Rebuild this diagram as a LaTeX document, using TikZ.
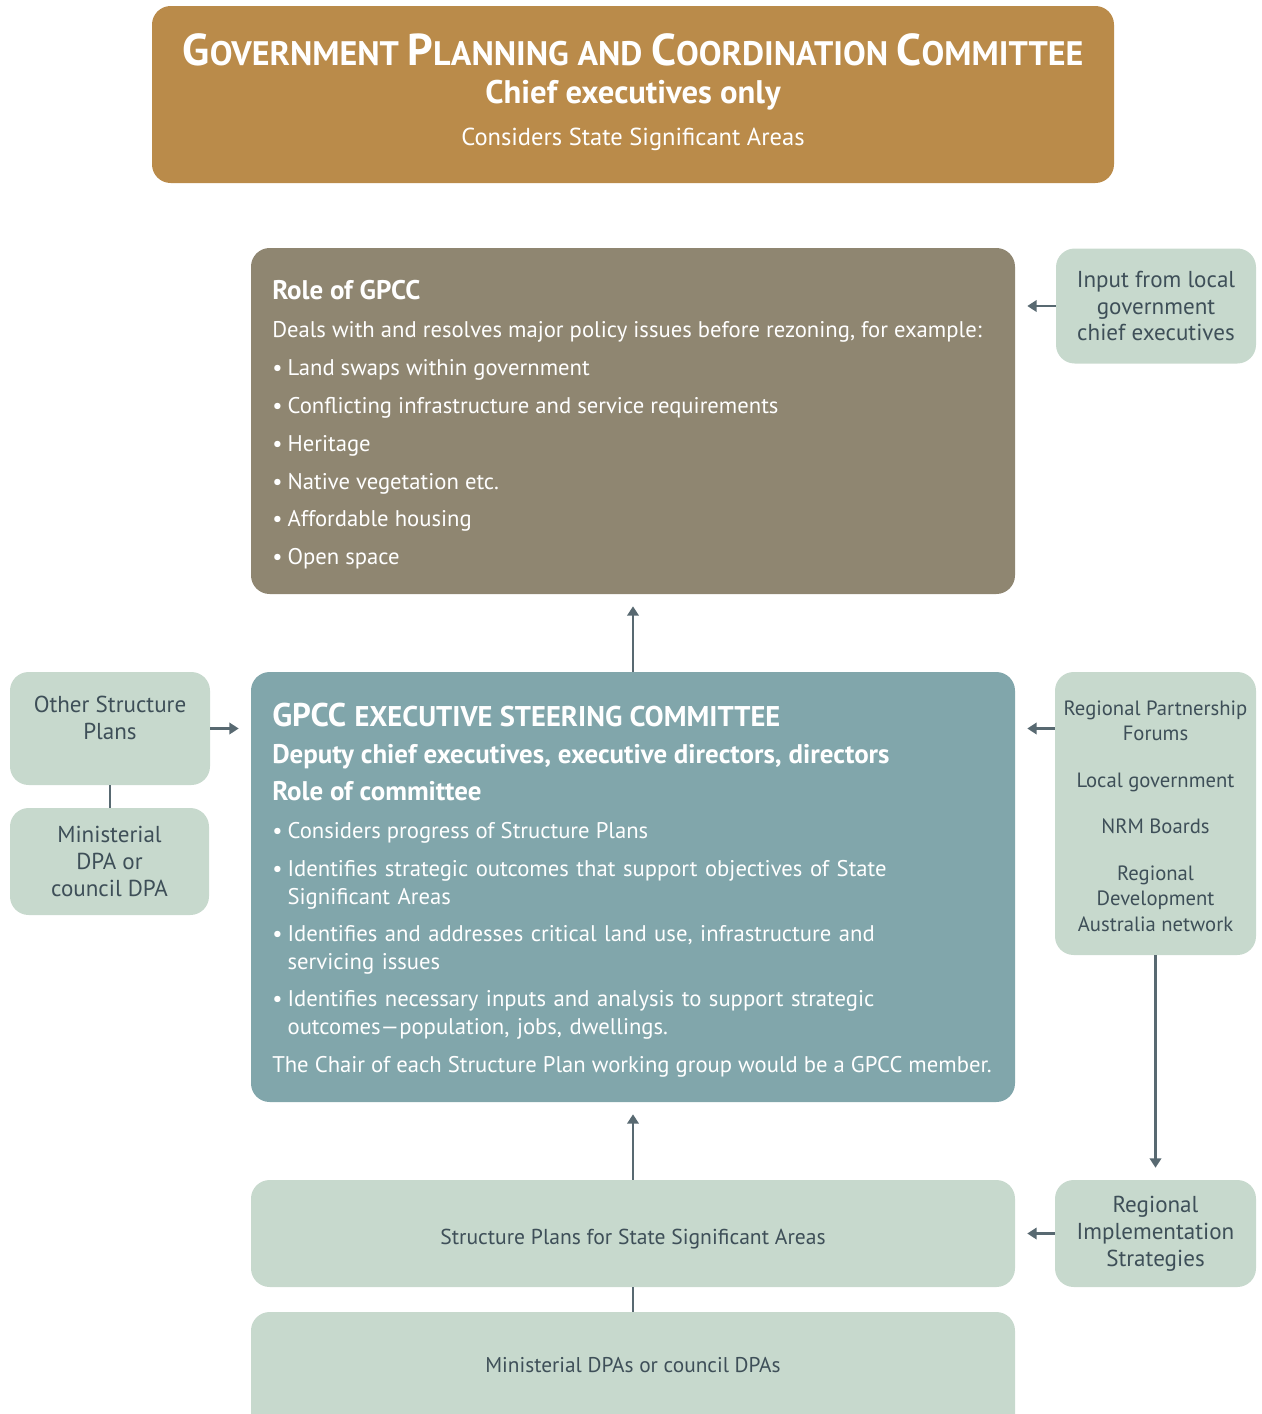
\documentclass[tikz,border=0pt]{standalone}
\usepackage{fontspec}
\setmainfont{PT Sans}
\usetikzlibrary{arrows.meta,calc}
\definecolor{gold}{RGB}{186,139,74}
\definecolor{taupe}{RGB}{143,134,113}
\definecolor{tealbox}{RGB}{129,166,171}
\definecolor{pale}{RGB}{199,217,205}
\definecolor{arrowc}{RGB}{88,105,113}
\definecolor{darktext}{RGB}{62,79,88}
\newcommand\fsz[2]{\fontsize{#1}{#2}\selectfont}
\newcommand\bul{\makebox[11.5pt][l]{•}}
\newcommand\bulsp{\hspace*{11.5pt}}
\tikzset{
  box/.style 2 args={rounded corners=14pt, inner sep=0pt, draw=none,
    minimum width=#1*0.75pt, minimum height=#2*0.75pt},
  paletxt/.style={text=darktext, align=center, font=\fsz{17.3}{20.2}},
  whitetxt/.style={text=white, anchor=base west, inner sep=0pt},
  bodyf/.style={font=\fsz{17}{21}},
  conn/.style={draw=arrowc, line width=1.8pt},
  arr/.style={conn, -{Triangle[width=8.5pt,length=7pt]}, shorten >=9pt},
}
\begin{document}
\begin{tikzpicture}[x=0.75pt,y=-0.75pt]
\useasboundingbox (0,0) rectangle (1262,1414);
\clip (0,0) rectangle (1262,1414);

% ---------- boxes ----------
\node[box={962}{177}, fill=gold] (top) at (633,94.5) {};
\node[box={764}{346}, fill=taupe] (role) at (633,421) {};
\node[box={200}{115}, fill=pale, paletxt] (input) at (1156,306)
  {Input from local\\government\\chief executives};
\node[box={764}{430}, fill=tealbox] (steer) at (633,887) {};
\node[box={200}{113}, fill=pale] (other) at (110,728.5) {};
\node[box={199}{107}, fill=pale, paletxt] (mindpa) at (109.5,861.5)
  {Ministerial\\DPA or\\council DPA};
\node[box={201}{283}, fill=pale] (rp) at (1155.5,813.5) {};
\node[box={201}{107}, fill=pale, paletxt] (ris) at (1155.5,1233.5)
  {Regional\\Implementation\\Strategies};
\node[box={764}{107}, fill=pale] (sp) at (633,1233.5) {};
\node[box={764}{136}, fill=pale] (md) at (633,1380) {};

% ---------- top box text ----------
\node[text=white, anchor=base, inner sep=0pt, font=\bfseries] (t1) at (633,65.5)
  {\fsz{33.5}{34}G\fsz{25.5}{34}OVERNMENT \fsz{33.5}{34}P\fsz{25.5}{34}LANNING AND
   \fsz{33.5}{34}C\fsz{25.5}{34}OORDINATION \fsz{33.5}{34}C\fsz{25.5}{34}OMMITTEE};
\node[text=white, anchor=base, inner sep=0pt, font=\bfseries\fsz{24.5}{28}] (t2) at (633,103)
  {Chief executives only};
\node[text=white, anchor=base, inner sep=0pt, font=\fsz{18.4}{22}] (t3) at (633,145)
  {Considers State Significant Areas};

% ---------- role of GPCC text ----------
\node[whitetxt, font=\bfseries\fsz{20.2}{24}] (r0) at (272,299) {Role of GPCC};
\node[whitetxt, bodyf] (r1) at (272,337)
  {Deals with and resolves major policy issues before rezoning, for example:};
\node[whitetxt, bodyf] (r2) at (272,375) {\bul Land swaps within government};
\node[whitetxt, bodyf] (r3) at (272,413) {\bul Conflicting infrastructure and service requirements};
\node[whitetxt, bodyf] (r4) at (272,451) {\bul Heritage};
\node[whitetxt, bodyf] (r5) at (272,489) {\bul Native vegetation etc.};
\node[whitetxt, bodyf] (r6) at (272,526) {\bul Affordable housing};
\node[whitetxt, bodyf] (r7) at (272,564) {\bul Open space};

% ---------- steering committee text ----------
\node[whitetxt, font=\bfseries] (s0) at (272,726)
  {\fsz{24.6}{30}GPCC \fsz{21.4}{30}EXECUTIVE STEERING COMMITTEE};
\node[whitetxt, font=\bfseries\fsz{20.2}{24}] (s1) at (272,763)
  {Deputy chief executives, executive directors, directors};
\node[whitetxt, font=\bfseries\fsz{20.2}{24}] (s2) at (272,800) {Role of committee};
\node[whitetxt, bodyf] (s3) at (272,838) {\bul Considers progress of Structure Plans};
\node[whitetxt, bodyf, text width=560pt, align=left] (s4) at (272,876)
  {\bul Identifies strategic outcomes that support objectives of State\\\bulsp Significant Areas};
\node[whitetxt, bodyf, text width=560pt, align=left] (s5) at (272,941)
  {\bul Identifies and addresses critical land use, infrastructure and\\\bulsp servicing issues};
\node[whitetxt, bodyf, text width=560pt, align=left] (s6) at (272,1006)
  {\bul Identifies necessary inputs and analysis to support strategic\\\bulsp outcomes—population, jobs, dwellings.};
\node[whitetxt, bodyf] (s7) at (272,1072)
  {The Chair of each Structure Plan working group would be a GPCC member.};

% ---------- pale box texts ----------
\node[paletxt, inner sep=0pt] (othert) at (110,718) {Other Structure\\Plans};
\node[paletxt, inner sep=0pt, font=\fsz{15.5}{19}] (rpt) at (1155.5,816)
  {Regional Partnership\\Forums\\[16pt]Local government\\[16pt]NRM Boards\\[16pt]Regional\\Development\\Australia network};
\node[text=darktext, inner sep=0pt, anchor=base, font=\fsz{16.2}{20}] (spt) at (633,1244)
  {Structure Plans for State Significant Areas};
\node[text=darktext, inner sep=0pt, anchor=base, font=\fsz{16}{20}] (mdt) at (633,1372)
  {Ministerial DPAs or council DPAs};

% ---------- connectors ----------
\draw[arr] (input.west) -- (input.west -| role.east);
\draw[arr] (steer.north) -- (role.south);
\draw[arr] (other.east) -- (other.east -| steer.west);
\draw[arr] (rp.west |- other.east) -- (steer.east |- other.east);
\draw[conn] (other.south) -- (mindpa.north -| other.south);
\draw[arr] (rp.south) -- (ris.north);
\draw[arr] (ris.west) -- (ris.west -| sp.east);
\draw[arr] (sp.north) -- (steer.south);
\draw[conn] (sp.south) -- (md.north);
\end{tikzpicture}
\end{document}
